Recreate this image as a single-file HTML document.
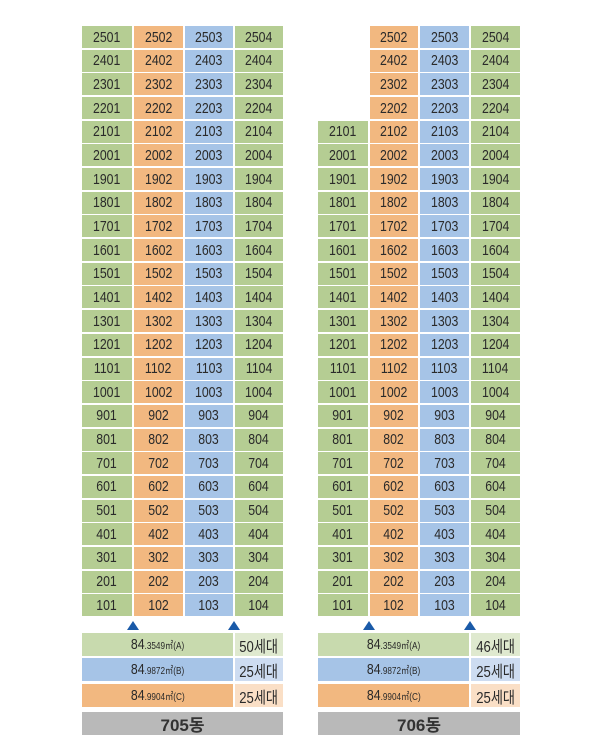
<!DOCTYPE html>
<html><head><meta charset="utf-8">
<style>
body{margin:0;width:600px;height:752px;background:#fff;position:relative;overflow:hidden;font-family:"Liberation Sans","Noto Sans CJK KR",sans-serif;color:#2a2a2a}
.c{position:absolute;display:flex;align-items:center;justify-content:center;font-size:15px;box-sizing:border-box}
.c span{display:inline-block;transform:scaleX(0.82)}
.g{background:#b5cd93}.o{background:#f2b880}.b{background:#a6c4e7}
.lg{background:#c8daae}.lgr{background:#dfe9cf}.lbr{background:#cddcf1}.lor{background:#fadfc6}
.tri{position:absolute;width:0;height:0;border-left:6px solid transparent;border-right:6px solid transparent;border-bottom:9px solid #1a5aa8}
.lab{position:absolute;background:#b9b9b9;display:flex;align-items:center;justify-content:center;font-size:17px;font-weight:bold;color:#333}
small{font-size:10px}
</style></head><body>
<div id="root"></div>
<script>
const buildings=[{name:'705동',x:[82,133,184,234,283],maxFloor:[25,25,25,25],count:'50세대'},
                 {name:'706동',x:[318,369,419,470,520],maxFloor:[21,25,25,25],count:'46세대'}];
const colColors=['g','o','b','g'];
const top0=26, pitch=23.68, rowH=22;
const root=document.getElementById('root');
function add(cls,x,y,w,h,html){const d=document.createElement('div');d.className=cls;d.style.left=x+'px';d.style.top=y+'px';d.style.width=w+'px';d.style.height=h+'px';if(html!=null)d.innerHTML=html;root.appendChild(d);return d;}
buildings.forEach((bd,bi)=>{
  const g=document.createElement('div');
  for(let f=25;f>=1;f--){
    const y=top0+(25-f)*pitch;
    for(let c=0;c<4;c++){
      if(f>bd.maxFloor[c])continue;
      const x=bd.x[c]+(c>0?1:0), w=bd.x[c+1]-bd.x[c]-(c>0?1:0)-(c<3?1:0);
      const d=add('c '+colColors[c],x,y,w,rowH,'<span>'+f+'0'+(c+1)+'</span>');
      
      
    }
  }
  const x0=bd.x[0],x3=bd.x[3],x4=bd.x[4];
  [bd.x[1],bd.x[3]].forEach(tx=>{const t=add('tri',tx-6,621,0,0);t.style.width='0';t.style.height='0';
    });
  const rows=[['lg','lgr','84<small>.3549㎡(A)</small>',bd.count,633],['b','lbr','84<small>.9872㎡(B)</small>','25세대',658],['o','lor','84<small>.9904㎡(C)</small>','25세대',684]];
  rows.forEach((r,i)=>{
    const a=add('c '+r[0],x0,r[4],x3-x0-1,23,'<span>'+r[2]+'</span>');
    
    const b=add('c '+r[1],x3+1,r[4],x4-x3-1,23,'<span style="font-size:16px">'+r[3]+'</span>');
    
  });
  const l=add('lab',x0,712,x4-x0,23,bd.name);
  
});
</script>
</body></html>
